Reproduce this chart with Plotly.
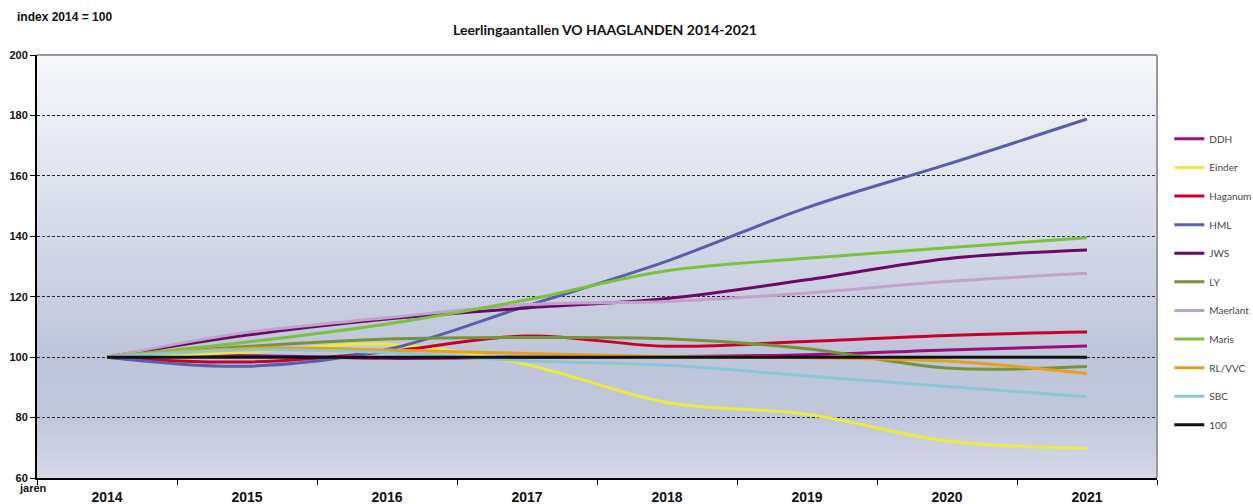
import plotly.graph_objects as go

years = ["2014", "2015", "2016", "2017", "2018", "2019", "2020", "2021"]

DDH      = [100, 100.5, 99.6, 100.0, 100.2, 100.8, 102.4, 103.7]
Einder   = [100, 101.6, 104.3, 97.5, 85.0, 81.1, 72.3, 69.8]
Haganum  = [100, 98.4, 101.8, 107.0, 103.6, 105.2, 107.2, 108.3]
HML      = [100, 97.0, 102.5, 117.0, 131.8, 149.5, 163.8, 178.8]
JWS      = [100, 107.3, 112.6, 116.3, 119.4, 125.6, 132.6, 135.5]
LY       = [100, 103.5, 106.0, 106.5, 106.1, 102.8, 96.4, 96.9]
Maerlant = [100, 108.2, 113.0, 117.4, 118.4, 121.2, 125.0, 127.8]
Maris    = [100, 105.0, 111.0, 119.0, 128.6, 132.7, 136.2, 139.5]
RLVVC    = [100, 102.9, 102.4, 101.2, 100.2, 99.8, 98.7, 94.6]
SBC      = [100, 102.4, 101.5, 98.8, 97.3, 93.8, 90.3, 86.9]
REF100   = [100, 100, 100, 100, 100, 100, 100, 100]

series = [
    ("DDH", DDH, "#9c0e7a"),
    ("Einder", Einder, "#eaea42"),
    ("Haganum", Haganum, "#c8002e"),
    ("HML", HML, "#5a5ea8"),
    ("JWS", JWS, "#680a62"),
    ("LY", LY, "#76923c"),
    ("Maerlant", Maerlant, "#c0a2ca"),
    ("Maris", Maris, "#7dbf3e"),
    ("RL/VVC", RLVVC, "#e3a11e"),
    ("SBC", SBC, "#8ec5d4"),
    ("100", REF100, "#111111"),
]

fig = go.Figure()
for name, vals, col in series:
    fig.add_trace(go.Scatter(
        x=years, y=vals, name=name, mode="lines",
        line=dict(color=col, width=3, shape="spline", smoothing=1.0),
        legendgroup=name,
    ))

# background gradient (bottom -> top)
stops = [(0.0, (212, 216, 231)), (0.15, (192, 199, 218)), (0.3, (191, 198, 218)),
         (0.6, (214, 219, 233)), (1.0, (247, 248, 252))]

def color_at(f):
    for (f0, c0), (f1, c1) in zip(stops[:-1], stops[1:]):
        if f0 <= f <= f1:
            t = (f - f0) / (f1 - f0)
            return "rgb(%d,%d,%d)" % tuple(round(a + (b - a) * t) for a, b in zip(c0, c1))
    return "rgb(%d,%d,%d)" % stops[-1][1]

shapes = []
N = 80
for i in range(N):
    y0 = i / N
    y1 = (i + 1) / N + 0.002
    shapes.append(dict(type="rect", xref="paper", yref="paper", x0=0, x1=1, y0=y0, y1=min(y1, 1),
                       fillcolor=color_at((i + 0.5) / N), line=dict(width=0), layer="below"))
shapes.append(dict(type="line", xref="paper", yref="paper", x0=0, x1=1, y0=1, y1=1,
                   line=dict(color="#9a9a9a", width=2), layer="above"))
shapes.append(dict(type="line", xref="paper", yref="paper", x0=1, x1=1, y0=0, y1=1,
                   line=dict(color="#9a9a9a", width=2), layer="above"))

fig.update_layout(
    width=1253, height=504,
    margin=dict(l=37, r=96, t=55, b=26, autoexpand=False),
    paper_bgcolor="white", plot_bgcolor="white",
    shapes=shapes,
    title=dict(text="<b>Leerlingaantallen VO HAAGLANDEN 2014-2021</b>", x=605 / 1253, xanchor="center",
               xref="container", y=1 - 30 / 504, yref="container", yanchor="middle",
               font=dict(family="Lato", size=14, color="#111")),
    showlegend=True,
    legend=dict(x=1.011, xanchor="left", y=0.836, yanchor="top",
                font=dict(family="Lato", size=10, color="#444"),
                tracegroupgap=9.6, bgcolor="rgba(0,0,0,0)", itemwidth=30),
    annotations=[
        dict(text="<b>index 2014 = 100</b>", xref="paper", yref="paper", x=0, y=1,
             xshift=-22, yshift=38, xanchor="left", yanchor="middle", showarrow=False,
             font=dict(family="Liberation Sans", size=12, color="#111")),
        dict(text="<b>jaren</b>", xref="paper", yref="paper", x=0, y=0, xshift=-20, yshift=-10,
             xanchor="left", yanchor="middle", showarrow=False,
             font=dict(family="Liberation Sans", size=11, color="#111")),
    ],
)

fig.update_xaxes(
    type="category", range=[-0.5, 7.5], tickson="boundaries",
    showline=True, linecolor="black", linewidth=2,
    ticks="outside", ticklen=5, tickcolor="black", tickwidth=1,
    showgrid=False, zeroline=False, ticklabelstandoff=5,
    tickfont=dict(family="Liberation Sans", size=14, color="#111"),
    tickvals=years, ticktext=["<b>%s</b>" % y for y in years],
)
fig.update_yaxes(
    range=[60, 200], tickvals=[60, 80, 100, 120, 140, 160, 180, 200],
    ticktext=["<b>%d</b>" % v for v in [60, 80, 100, 120, 140, 160, 180, 200]],
    showline=True, linecolor="black", linewidth=2,
    ticks="outside", ticklen=5, tickcolor="black",
    showgrid=True, gridcolor="#222", gridwidth=1, griddash="3px,2px", zeroline=False,
    tickfont=dict(family="Liberation Sans", size=11, color="#111"),
)

fig.write_html("out.html", config={"displayModeBar": False},
               post_script="document.body.style.margin='0';document.body.style.padding='0';")
